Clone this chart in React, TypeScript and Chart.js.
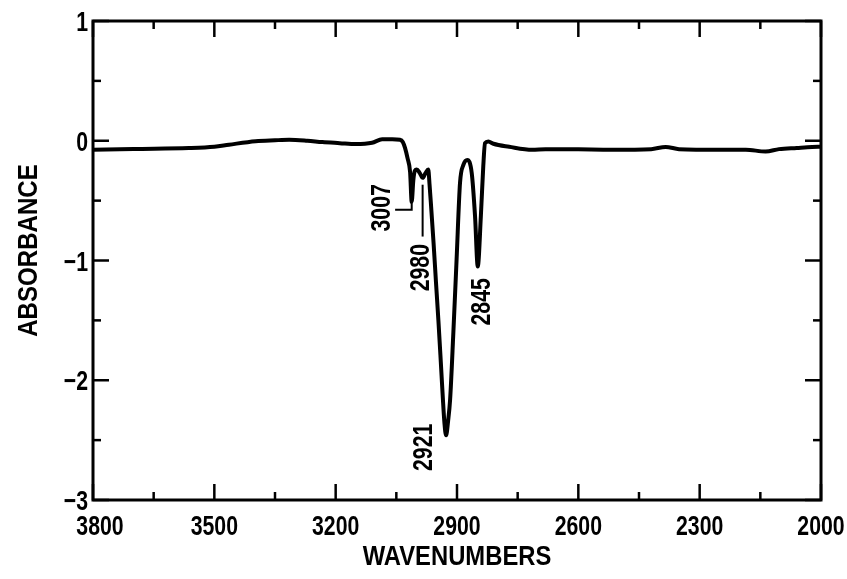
import React, { useEffect, useRef } from "react";
import { Chart, registerables } from "chart.js";

Chart.register(...registerables);

// Spectrum trace (wavenumber, absorbance)
const wavenumbers = [
  3800, 3700, 3563, 3500, 3464, 3398, 3350, 3315, 3270, 3233, 3190, 3150, 3110,
  3085, 3060, 3041, 3034, 3028.5, 3022, 3016, 3012, 3008, 3004, 2999.6, 2992,
  2984.7, 2978, 2971, 2968, 2964, 2958, 2952, 2946, 2940, 2935, 2931, 2927,
  2922, 2917, 2909, 2901, 2892.5, 2884, 2874.5, 2863.6, 2855.4, 2848.7, 2841,
  2835, 2830.7, 2822.5, 2810, 2771, 2714, 2681, 2600, 2517, 2420, 2384, 2351,
  2250, 2186, 2137, 2104, 2060, 2022, 2000,
];
const absorbance = [
  -0.075, -0.068, -0.061, -0.05, -0.033, -0.004, 0.004, 0.008, 0.0, -0.011, -0.02,
  -0.028, -0.017, 0.012, 0.012, 0.008, -0.01, -0.06, -0.15, -0.26, -0.51, -0.33,
  -0.25, -0.24, -0.27, -0.31, -0.27, -0.24, -0.36, -0.55, -0.85, -1.18, -1.5,
  -1.85, -2.15, -2.36, -2.46, -2.34, -2.16, -1.6, -0.99, -0.35, -0.2, -0.16,
  -0.27, -0.63, -1.05, -0.63, -0.21, -0.02, -0.006, -0.025, -0.05, -0.075, -0.07,
  -0.072, -0.075, -0.07, -0.052, -0.07, -0.075, -0.075, -0.09, -0.07, -0.06,
  -0.052, -0.05,
];

// Axes
const xTickValues = [3800, 3500, 3200, 2900, 2600, 2300, 2000];
const xTickLabels = ["3800", "3500", "3200", "2900", "2600", "2300", "2000"];
const yTickValues = [1, 0, -1, -2, -3];
const yTickLabels = ["1", "0", "\u22121", "\u22122", "\u22123"];
const xTitle = "WAVENUMBERS";
const yTitle = "ABSORBANCE";

// Peak annotations
const peakLabels = ["3007", "2980", "2921", "2845"];

// Annotation anchors in data space (label centre), kept apart from the data
const peakLabelAnchorsX = [3090, 2994, 2986, 2843];
const peakLabelAnchorsY = [-0.56, -1.06, -2.56, -1.345];

const FONT = 'bold 28px "Liberation Sans", Arial, sans-serif';
const SX = 0.76;

function drawText(
  ctx: CanvasRenderingContext2D,
  s: string,
  x: number,
  y: number,
  opts: { rotate?: boolean; sx?: number; align?: CanvasTextAlign } = {}
) {
  const { rotate = false, sx = SX, align = "center" } = opts;
  ctx.save();
  ctx.translate(x, y);
  if (rotate) ctx.rotate(-Math.PI / 2);
  ctx.scale(sx, 1);
  ctx.textAlign = align;
  ctx.textBaseline = "alphabetic";
  ctx.fillText(s, 0, 0);
  ctx.restore();
}

const framePlugin = {
  id: "framePlugin",
  afterDatasetsDraw(chart: any) {
    const ctx: CanvasRenderingContext2D = chart.ctx;
    const { left, right, top, bottom } = chart.chartArea;
    const xs = chart.scales.x;
    const ys = chart.scales.y;
    ctx.save();
    ctx.strokeStyle = "#000";
    ctx.fillStyle = "#000";
    ctx.lineCap = "butt";

    // frame
    ctx.lineWidth = 3;
    ctx.strokeRect(left, top, right - left, bottom - top);

    // ticks
    ctx.lineWidth = 2.5;
    const MAJ = 16;
    const MIN = 8;
    const seg = (x1: number, y1: number, x2: number, y2: number) => {
      ctx.beginPath();
      ctx.moveTo(x1, y1);
      ctx.lineTo(x2, y2);
      ctx.stroke();
    };
    xTickValues.forEach((v, i) => {
      const px = xs.getPixelForValue(v);
      seg(px, bottom, px, bottom - MAJ);
      seg(px, top, px, top + MAJ);
      if (i < xTickValues.length - 1) {
        const m = xs.getPixelForValue((v + xTickValues[i + 1]) / 2);
        seg(m, bottom, m, bottom - MIN);
        seg(m, top, m, top + MIN);
      }
    });
    yTickValues.forEach((v, i) => {
      const py = ys.getPixelForValue(v);
      seg(left, py, left + MAJ, py);
      seg(right, py, right - MAJ, py);
      if (i < yTickValues.length - 1) {
        const m = ys.getPixelForValue((v + yTickValues[i + 1]) / 2);
        seg(left, m, left + MIN, m);
        seg(right, m, right - MIN, m);
      }
    });

    // tick labels
    ctx.font = FONT;
    xTickValues.forEach((v, i) => {
      let px = xs.getPixelForValue(v);
      if (i === 0) px += 7;
      drawText(ctx, xTickLabels[i], px, bottom + 35);
    });
    yTickValues.forEach((v, i) => {
      const py = ys.getPixelForValue(v);
      drawText(ctx, yTickLabels[i], left - 5, py + 10, { align: "right" });
    });

    // axis titles
    drawText(ctx, xTitle, (left + right) / 2, bottom + 65, { sx: 0.85 });
    drawText(ctx, yTitle, 37, (top + bottom) / 2 - 10, { rotate: true, sx: 0.86 });

    // peak labels
    peakLabels.forEach((s, i) => {
      const px = xs.getPixelForValue(peakLabelAnchorsX[i]);
      const py = ys.getPixelForValue(peakLabelAnchorsY[i]);
      drawText(ctx, s, px + 10, py, { rotate: true });
    });

    // callout lines
    ctx.lineWidth = 2;
    const cx1 = xs.getPixelForValue(3053);
    const cx2 = xs.getPixelForValue(3012);
    const cyA = ys.getPixelForValue(-0.576);
    const cyB = ys.getPixelForValue(-0.493);
    ctx.beginPath();
    ctx.moveTo(cx1, cyA);
    ctx.lineTo(cx2, cyA);
    ctx.lineTo(cx2, cyB);
    ctx.stroke();
    const dx = xs.getPixelForValue(2985);
    seg(dx, ys.getPixelForValue(-0.367), dx, ys.getPixelForValue(-0.8));

    ctx.restore();
  },
};

export default function App() {
  const ref = useRef<HTMLCanvasElement | null>(null);
  useEffect(() => {
    if (!ref.current) return;
    const points = wavenumbers.map((w, i) => ({ x: w, y: absorbance[i] }));
    const chart = new Chart(ref.current, {
      type: "scatter",
      data: {
        datasets: [
          {
            data: points,
            showLine: true,
            borderColor: "#000",
            borderWidth: 4,
            pointRadius: 0,
            cubicInterpolationMode: "monotone",
            fill: false,
          } as any,
        ],
      },
      options: {
        animation: false,
        responsive: false,
        devicePixelRatio: 1,
        layout: { padding: { left: 93, right: 26, top: 21, bottom: 79 } },
        plugins: { legend: { display: false }, tooltip: { enabled: false } },
        scales: {
          x: { type: "linear", min: 2000, max: 3800, reverse: true, display: false },
          y: { type: "linear", min: -3, max: 1, display: false },
        },
      },
      plugins: [framePlugin],
    });
    return () => chart.destroy();
  }, []);
  return (
    <div style={{ position: "absolute", left: 0, top: 0, width: 847, height: 579, background: "#fff" }}>
      <canvas ref={ref} width={847} height={579} style={{ width: 847, height: 579, display: "block" }} />
    </div>
  );
}
